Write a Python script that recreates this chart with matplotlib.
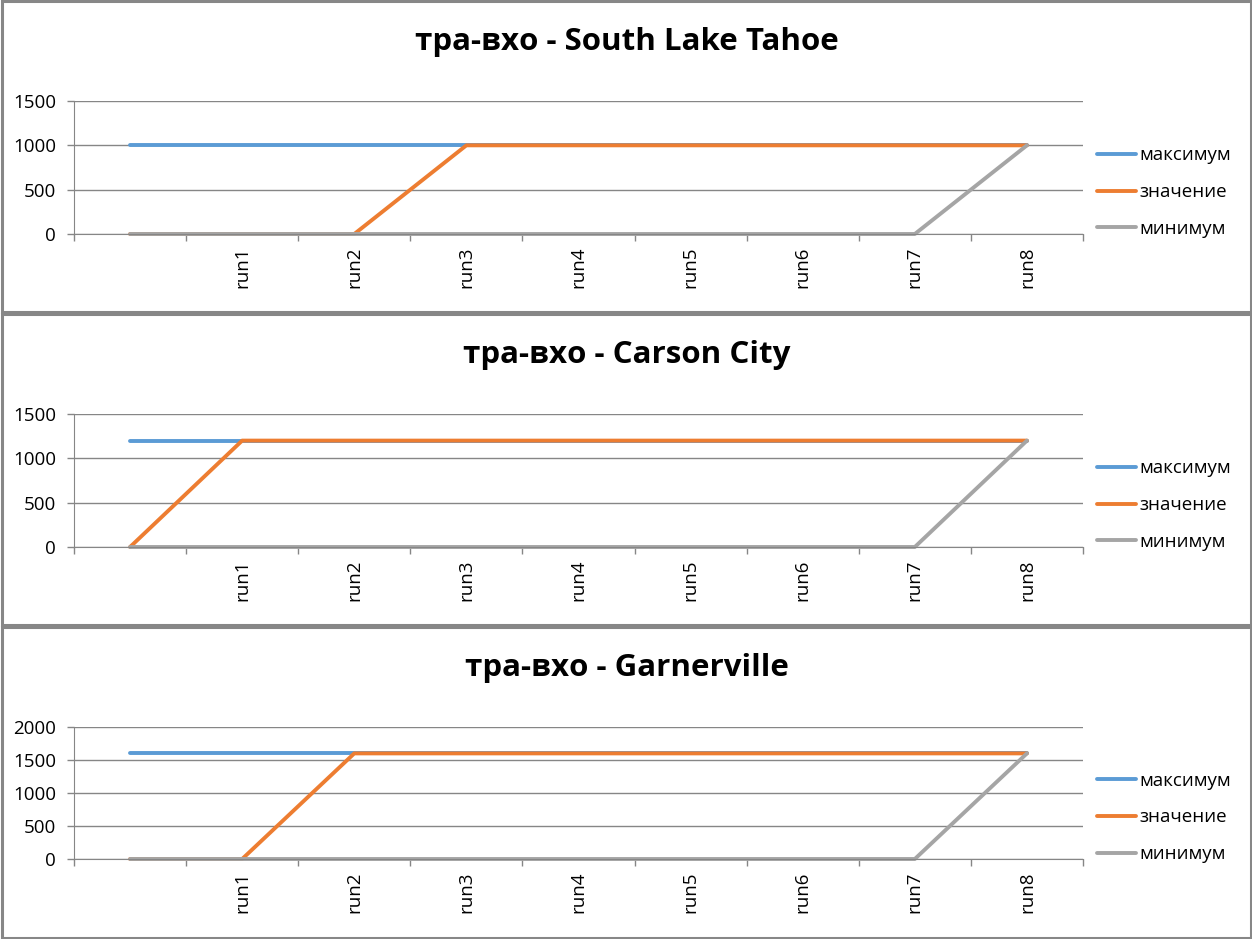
import matplotlib
matplotlib.use('Agg')
import matplotlib.pyplot as plt
from matplotlib.patches import Rectangle

plt.rcParams['font.family'] = ['Open Sans', 'DejaVu Sans']

# categories (first one is blank in the source chart)
categories = ['', 'run1', 'run2', 'run3', 'run4', 'run5', 'run6', 'run7', 'run8']
series_names = ['максимум', 'значение', 'минимум']
titles = ['тра-вхо - South Lake Tahoe', 'тра-вхо - Carson City', 'тра-вхо - Garnerville']

# South Lake Tahoe
tahoe_max = [1000, 1000, 1000, 1000, 1000, 1000, 1000, 1000, 1000]
tahoe_val = [0, 0, 0, 1000, 1000, 1000, 1000, 1000, 1000]
tahoe_min = [0, 0, 0, 0, 0, 0, 0, 0, 1000]

# Carson City
carson_max = [1200, 1200, 1200, 1200, 1200, 1200, 1200, 1200, 1200]
carson_val = [0, 1200, 1200, 1200, 1200, 1200, 1200, 1200, 1200]
carson_min = [0, 0, 0, 0, 0, 0, 0, 0, 1200]

# Garnerville
garner_max = [1600, 1600, 1600, 1600, 1600, 1600, 1600, 1600, 1600]
garner_val = [0, 0, 1600, 1600, 1600, 1600, 1600, 1600, 1600]
garner_min = [0, 0, 0, 0, 0, 0, 0, 0, 1600]

y_max = [1500, 1500, 2000]
y_step = 500

kColors = ['#5B9BD5', '#ED7D31', '#A5A5A5']
kGrid = '#868686'
kFont = 13.5

W, H = 1252, 939
fig = plt.figure(figsize=(W / 100, H / 100), dpi=100)


def px_rect(left, top, right, bottom):
    return [left / W, 1 - bottom / H, (right - left) / W, (bottom - top) / H]


panels = [
    (tahoe_max, tahoe_val, tahoe_min),
    (carson_max, carson_val, carson_min),
    (garner_max, garner_val, garner_min),
]
panel_top = [0, 313, 626]
axes_top = [101, 414, 727]
axes_bottom = [234, 547, 859]

for i, data in enumerate(panels):
    # chart border
    fig.patches.append(Rectangle((1.5 / W, 1 - (panel_top[i] + 312) / H), (W - 3) / W, 311 / H,
                                 transform=fig.transFigure, fill=False,
                                 edgecolor='#878787', linewidth=2.2, zorder=0))

    ax = fig.add_axes(px_rect(74, axes_top[i], 1083, axes_bottom[i]))
    x = list(range(len(categories)))
    for vals, name, col in zip(data, series_names, kColors):
        ax.plot(x, vals, color=col, linewidth=2.8, label=name,
                solid_capstyle='round', solid_joinstyle='round', clip_on=False)

    ax.set_xlim(-0.5, len(categories) - 0.5)
    ax.set_ylim(0, y_max[i])
    ax.set_yticks(list(range(0, y_max[i] + 1, y_step)))
    ax.yaxis.grid(True, color=kGrid, linewidth=1.0)
    ax.set_axisbelow(True)

    ax.set_xticks(x)
    ax.set_xticklabels(categories, rotation=90, fontsize=kFont, va='top')
    ax.set_xticks([k - 0.5 for k in range(len(categories) + 1)], minor=True)
    ax.tick_params(axis='x', which='major', length=0, pad=9)
    ax.tick_params(axis='x', which='minor', length=5, color=kGrid, width=1)
    ax.tick_params(axis='y', length=5, color=kGrid, width=1, labelsize=kFont, pad=8)

    for s in ['top', 'right']:
        ax.spines[s].set_visible(False)
    ax.spines['left'].set_color(kGrid)
    ax.spines['bottom'].set_color(kGrid)

    fig.text(627 / W, 1 - (panel_top[i] + 42) / H, titles[i], ha='center', va='center',
             fontsize=22.5, fontweight='bold')

    ax.legend(loc='center left', bbox_to_anchor=(1.0139, 0.315), frameon=False,
              borderpad=0, borderaxespad=0, fontsize=kFont, handlelength=2.1,
              handletextpad=0.15, labelspacing=1.0)

fig.savefig('out.png', dpi=100)
